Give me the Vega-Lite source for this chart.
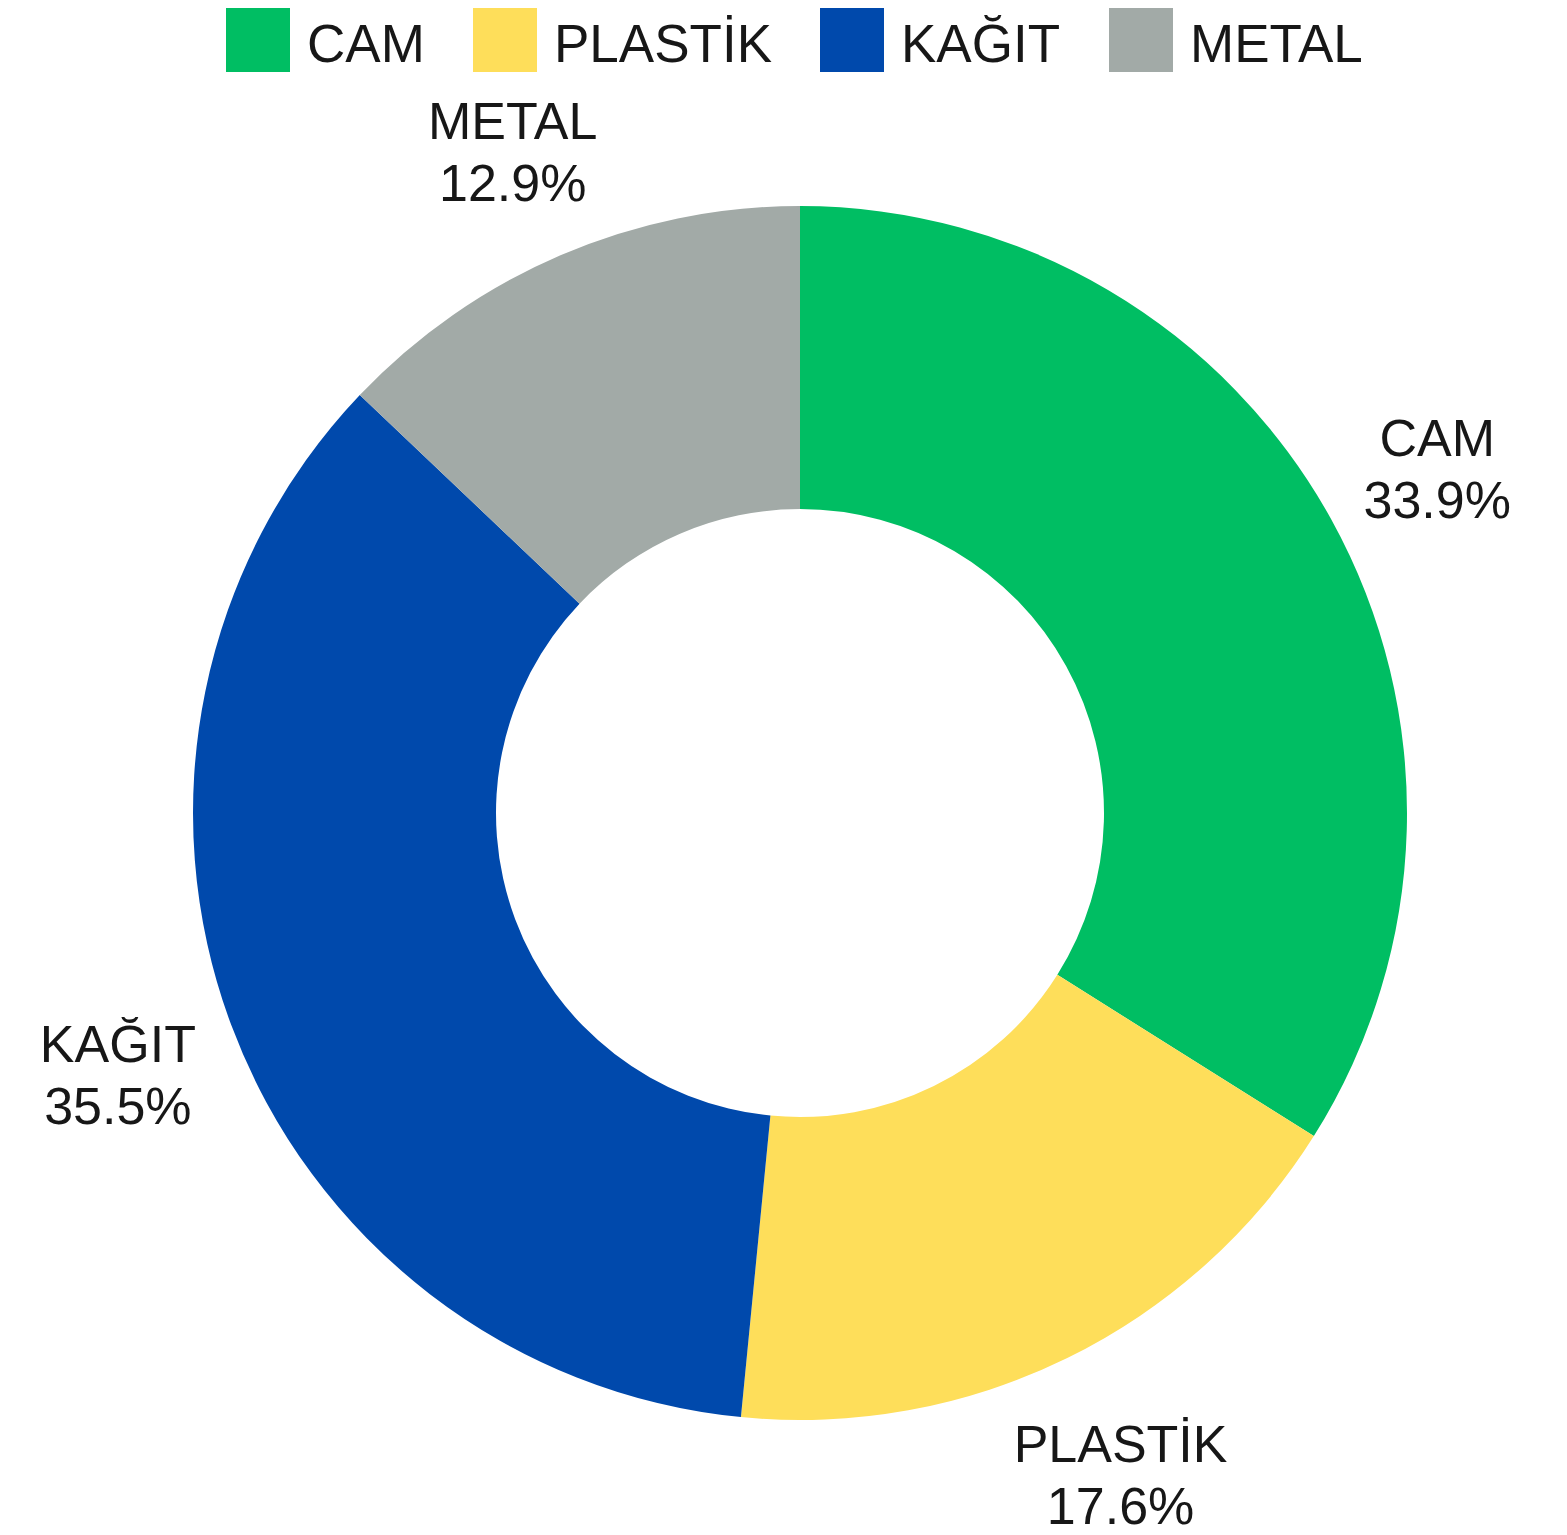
{
  "$schema": "https://vega.github.io/schema/vega-lite/v6.json",
  "autosize": {"type": "none"},
  "width": 1534,
  "height": 1444,
  "padding": {"left": 33, "top": 91, "right": 0, "bottom": 0},
  "background": "white",
  "config": {"view": {"stroke": null}, "font": "Liberation Sans"},
  "data": {
    "values": [
      {"category": "CAM", "value": 33.9, "order": 1, "label": "CAM\n33.9%"},
      {"category": "PLASTİK", "value": 17.6, "order": 2, "label": "PLASTİK\n17.6%"},
      {"category": "KAĞIT", "value": 35.5, "order": 3, "label": "KAĞIT\n35.5%"},
      {"category": "METAL", "value": 12.9, "order": 4, "label": "METAL\n12.9%"}
    ]
  },
  "encoding": {
    "theta": {"field": "value", "type": "quantitative", "stack": true},
    "order": {"field": "order", "type": "quantitative"},
    "color": {
      "field": "category",
      "type": "nominal",
      "scale": {
        "domain": ["CAM", "PLASTİK", "KAĞIT", "METAL"],
        "range": ["#00BE63", "#FEDE5A", "#0049AC", "#A2AAA7"]
      },
      "legend": {
        "title": null,
        "orient": "none",
        "direction": "horizontal",
        "legendX": 193,
        "legendY": -83,
        "padding": 0,
        "symbolType": "square",
        "symbolSize": 4096,
        "symbolStrokeWidth": 0,
        "symbolOpacity": 1,
        "labelFontSize": 53,
        "labelFont": "Liberation Sans",
        "labelColor": "#171717",
        "labelOffset": 17,
        "columnPadding": 48,
        "labelLimit": 400,
        "encode": {"labels": {"update": {"dy": {"value": 6}}}}
      }
    }
  },
  "layer": [
    {
      "mark": {"type": "arc", "outerRadius": 607, "innerRadius": 304}
    },
    {
      "mark": {
        "type": "text",
        "radius": 728,
        "fontSize": 52,
        "lineBreak": "\n",
        "lineHeight": 62,
        "dy": -21,
        "align": "center",
        "baseline": "middle",
        "font": "Liberation Sans"
      },
      "encoding": {
        "text": {"field": "label", "type": "nominal"},
        "color": {"value": "#171717"}
      }
    }
  ]
}
